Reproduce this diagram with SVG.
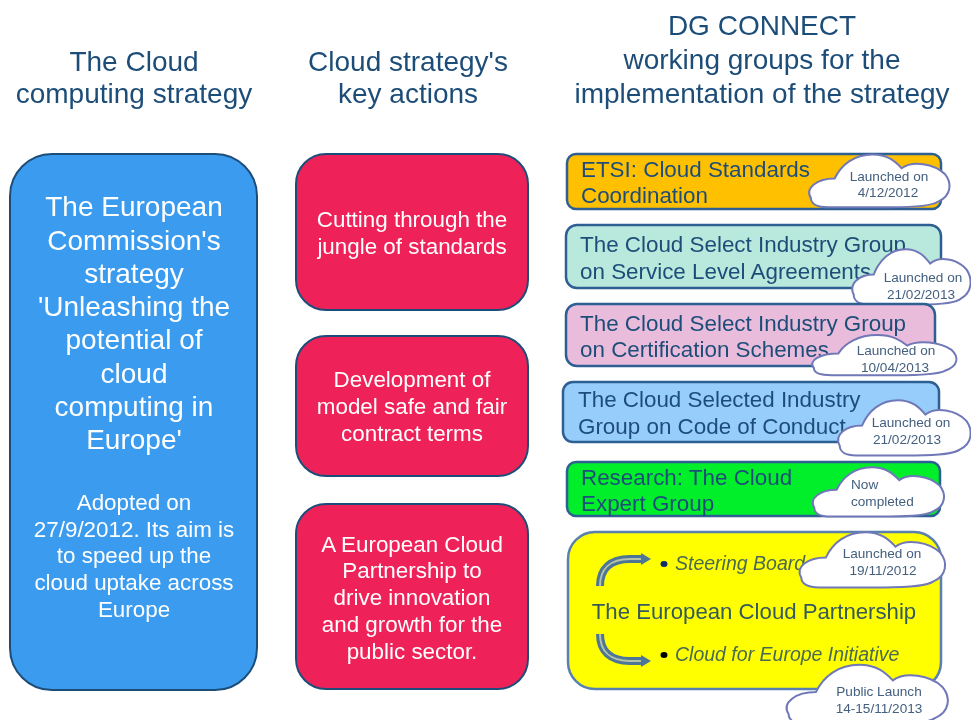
<svg xmlns="http://www.w3.org/2000/svg" width="971" height="720" viewBox="0 0 971 720">
<defs>
<path id="cloud" d="M-64,14 C-70,5 -58,-3 -42,-3 C-36,-15 -24,-24 -7,-24 C7,-24 14,-18 20,-12 C30,-19 50,-16 60,-7 C67,1 66,12 54,17 C48,21 30,22 10,22 L-48,22 C-58,22 -64,19 -64,14 Z" vector-effect="non-scaling-stroke"/>
<filter id="b" x="-5%" y="-5%" width="110%" height="110%"><feGaussianBlur stdDeviation="0.7"/></filter>
</defs>
<style>
text{font-family:"Liberation Sans",Arial,sans-serif;text-anchor:middle}
.h{font-size:28px;fill:#1f4e79}
.w{fill:#fff}
.r{fill:#ee2358;stroke:#1f4e79;stroke-width:2}
.g{stroke:#2f5f92;stroke-width:2.5}
.t{font-size:22.4px;fill:#1f4e79;text-anchor:start}
.c{fill:#fff;stroke:#6f78b8;stroke-width:2}
.n{font-size:13.6px;fill:#44607f}
.a{fill:none;stroke:#4d7596;stroke-width:8}
.a2{fill:none;stroke:#b4c2a8;stroke-width:2}
.ah{fill:#4d7596}
.i{font-size:19.5px;font-style:italic;fill:#4a6a50;text-anchor:start}
</style>
<rect width="971" height="720" fill="#fff"/>
<g filter="url(#b)">
<g id="headers">
<text class="h" x="134" y="71">The Cloud</text>
<text class="h" x="134" y="103">computing strategy</text>
<text class="h" x="408" y="71">Cloud strategy's</text>
<text class="h" x="408" y="103">key actions</text>
<text class="h" x="762" y="35">DG CONNECT</text>
<text class="h" x="762" y="69">working groups for the</text>
<text class="h" x="762" y="103">implementation of the strategy</text>
</g>
<g id="strategy">
<rect x="10" y="154" width="247" height="536" rx="42" fill="#3a9bef" stroke="#1f4e79" stroke-width="2"/>
<g font-size="28">
<text class="w" x="134" y="216">The European</text>
<text class="w" x="134" y="250">Commission's</text>
<text class="w" x="134" y="283">strategy</text>
<text class="w" x="134" y="316">'Unleashing the</text>
<text class="w" x="134" y="349">potential of</text>
<text class="w" x="134" y="383">cloud</text>
<text class="w" x="134" y="416">computing in</text>
<text class="w" x="134" y="449">Europe'</text>
</g>
<g font-size="22.4">
<text class="w" x="134" y="510">Adopted on</text>
<text class="w" x="134" y="537">27/9/2012. Its aim is</text>
<text class="w" x="134" y="563">to speed up the</text>
<text class="w" x="134" y="590">cloud uptake across</text>
<text class="w" x="134" y="617">Europe</text>
</g>
</g>
<g id="action1" font-size="22.4">
<rect class="r" x="296" y="154" width="232" height="156" rx="30"/>
<text class="w" x="412" y="227">Cutting through the</text>
<text class="w" x="412" y="254">jungle of standards</text>
</g>
<g id="action2" font-size="22.4">
<rect class="r" x="296" y="336" width="232" height="140" rx="30"/>
<text class="w" x="412" y="387">Development of</text>
<text class="w" x="412" y="414">model safe and fair</text>
<text class="w" x="412" y="441">contract terms</text>
</g>
<g id="action3" font-size="22.4">
<rect class="r" x="296" y="504" width="232" height="185" rx="30"/>
<text class="w" x="412" y="552">A European Cloud</text>
<text class="w" x="412" y="578">Partnership to</text>
<text class="w" x="412" y="605">drive innovation</text>
<text class="w" x="412" y="632">and growth for the</text>
<text class="w" x="412" y="659">public sector.</text>
</g>
<g id="wg-etsi">
<rect class="g" x="567" y="154" width="374" height="55" rx="9" fill="#ffc000"/>
<text class="t" x="581" y="177">ETSI: Cloud Standards</text>
<text class="t" x="581" y="203">Coordination</text>
<use href="#cloud" class="c" transform="translate(880,182) scale(1.08,1.15)"/>
<text class="n" x="889" y="181">Launched on</text>
<text class="n" x="888" y="197">4/12/2012</text>
</g>
<g id="wg-sla">
<rect class="g" x="566" y="225" width="375" height="63" rx="11" fill="#b9e8dc"/>
<text class="t" x="580" y="252">The Cloud Select Industry Group</text>
<text class="t" x="580" y="279">on Service Level Agreements</text>
<use href="#cloud" class="c" transform="translate(912,278) scale(.91,1.2)"/>
<text class="n" x="923" y="282">Launched on</text>
<text class="n" x="921" y="299">21/02/2013</text>
</g>
<g id="wg-cert">
<rect class="g" x="566" y="304" width="369" height="62" rx="11" fill="#e9bcdc"/>
<text class="t" x="580" y="331">The Cloud Select Industry Group</text>
<text class="t" x="580" y="357">on Certification Schemes</text>
<use href="#cloud" class="c" transform="translate(885,356) scale(1.11,.87)"/>
<text class="n" x="896" y="355">Launched on</text>
<text class="n" x="895" y="372">10/04/2013</text>
</g>
<g id="wg-code">
<rect class="g" x="563" y="382" width="376" height="60" rx="10" fill="#97cdfb"/>
<text class="t" x="578" y="407">The Cloud Selected Industry</text>
<text class="t" x="578" y="434">Group on Code of Conduct</text>
<use href="#cloud" class="c" transform="translate(905,429) scale(1.02,1.2)"/>
<text class="n" x="911" y="427">Launched on</text>
<text class="n" x="907" y="444">21/02/2013</text>
</g>
<g id="wg-research">
<rect class="g" x="567" y="462" width="373" height="54" rx="9" fill="#00ef2c"/>
<text class="t" x="581" y="485">Research: The Cloud</text>
<text class="t" x="581" y="511">Expert Group</text>
<use href="#cloud" class="c" transform="translate(879,493) scale(1.01,1.07)"/>
<text class="n" x="851" y="489" style="text-anchor:start">Now</text>
<text class="n" x="851" y="506" style="text-anchor:start">completed</text>
</g>
<g id="wg-ecp">
<rect x="568" y="532" width="373" height="157" rx="27" fill="#ffff00" stroke="#5a80b0" stroke-width="2.5"/>
<path class="a" d="M600,586 C600,569 610,559 630,559 L642,559"/>
<path class="a2" d="M600,586 C600,569 610,559 630,559 L642,559"/>
<polygon class="ah" points="641,553 651,559 641,565"/>
<path class="a" d="M600,634 C600,651 610,661 630,661 L642,661"/>
<path class="a2" d="M600,634 C600,651 610,661 630,661 L642,661"/>
<polygon class="ah" points="641,655 651,661 641,667"/>
<ellipse cx="664" cy="564" rx="3.5" ry="3" fill="#0b2a6b"/>
<text class="i" x="675" y="570">Steering Board</text>
<text x="754" y="619" font-size="22.2" fill="#355a5a">The European  Cloud Partnership</text>
<ellipse cx="664" cy="655" rx="3.5" ry="3" fill="#000"/>
<text class="i" x="675" y="661">Cloud for Europe Initiative</text>
<use href="#cloud" class="c" transform="translate(873,561) scale(1.12,1.2)"/>
<text class="n" x="882" y="558">Launched on</text>
<text class="n" x="883" y="575">19/11/2012</text>
<use href="#cloud" class="c" transform="translate(868,696) scale(1.24,1.3)"/>
<text class="n" x="879" y="696">Public Launch</text>
<text class="n" x="879" y="713">14-15/11/2013</text>
</g>
</g>
</svg>
